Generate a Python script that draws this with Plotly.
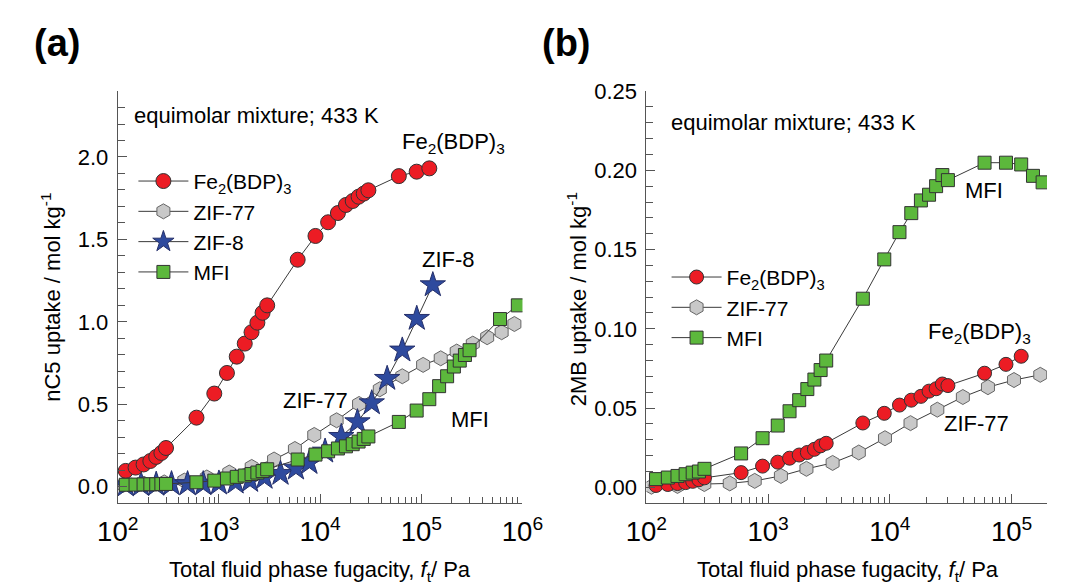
import plotly.graph_objects as go

# ---------------- data ----------------
fe_a_f = [120, 150, 180, 210, 240, 270, 300, 600, 900, 1200, 1500, 1800, 2100, 2400, 2700, 3000,
          6000, 9000, 12000, 15000, 18000, 21000, 24000, 27000, 30000, 60000, 90000, 120000]
fe_a_q = [0.096, 0.116, 0.135, 0.156, 0.181, 0.205, 0.235, 0.419, 0.565, 0.690, 0.789, 0.868, 0.937,
          0.995, 1.055, 1.100, 1.377, 1.521, 1.604, 1.660, 1.709, 1.733, 1.759, 1.778, 1.798, 1.884,
          1.911, 1.931]

zif77_a_f = [114, 182, 288, 455, 759, 1265, 2109, 3508, 5636, 8750, 14555, 24266, 38905, 64863,
             104232, 155597, 223872, 322849, 447713, 622300, 831764]
zif77_a_q = [0.012, 0.018, 0.026, 0.037, 0.056, 0.086, 0.120, 0.165, 0.229, 0.314, 0.403, 0.502,
             0.591, 0.670, 0.739, 0.779, 0.820, 0.868, 0.907, 0.937, 0.987]

zif8_a_f = [120, 170, 240, 340, 490, 700, 1000, 1460, 2030, 2820, 4060, 5770, 7830, 11200, 16200,
            23400, 32400, 46000, 64900, 90200, 130000]
zif8_a_q = [0.010, 0.012, 0.014, 0.017, 0.017, 0.017, 0.021, 0.027, 0.037, 0.056, 0.080, 0.112,
            0.146, 0.215, 0.304, 0.393, 0.508, 0.656, 0.828, 1.020, 1.224]

mfi_a_f = [120, 150, 180, 210, 240, 270, 300, 600, 900, 1200, 1500, 1800, 2100, 2400, 2700, 3000,
           6000, 9000, 12000, 15000, 18000, 21000, 24000, 27000, 30000, 60000, 90000, 120000,
           150000, 180000, 210000, 240000, 270000, 300000, 600000, 900000]
mfi_a_q = [0.012, 0.013, 0.014, 0.015, 0.015, 0.016, 0.017, 0.027, 0.037, 0.050, 0.060, 0.068,
           0.077, 0.086, 0.095, 0.106, 0.165, 0.195, 0.215, 0.232, 0.245, 0.258, 0.274, 0.290,
           0.305, 0.393, 0.462, 0.531, 0.610, 0.670, 0.729, 0.765, 0.799, 0.828, 1.017, 1.100]

fe_b_f = [120, 150, 180, 210, 240, 270, 300, 600, 900, 1200, 1500, 1800, 2100, 2400, 2700, 3000,
          6000, 9000, 12000, 15000, 18000, 21000, 24000, 27000, 30000, 60000, 90000, 120000]
fe_b_q = [0.0012, 0.0018, 0.0024, 0.0030, 0.0038, 0.0048, 0.0060, 0.0093, 0.0134, 0.0159, 0.0184,
          0.0204, 0.0220, 0.0240, 0.0262, 0.0278, 0.0406, 0.0467, 0.0519, 0.0550, 0.0574, 0.0607,
          0.0622, 0.0652, 0.0642, 0.0720, 0.0776, 0.0827]

zif77_b_f = [110, 180, 299, 484, 776, 1274, 2065, 3388, 5559, 9120, 14791, 24547, 39811, 63973,
             104713, 172187]
zif77_b_q = [0.0004, 0.0009, 0.0021, 0.0025, 0.0041, 0.0072, 0.0117, 0.0154, 0.0220, 0.0310,
             0.0405, 0.0490, 0.0570, 0.0632, 0.0677, 0.0710]

mfi_b_f = [120, 150, 180, 210, 240, 270, 300, 600, 900, 1200, 1500, 1800, 2100, 2400, 2700, 3000,
           6000, 9000, 12000, 15000, 18000, 21000, 24000, 27000, 30000, 60000, 90000, 120000,
           150000, 180000]
mfi_b_q = [0.0052, 0.0062, 0.0072, 0.0083, 0.0093, 0.0100, 0.0117, 0.0214, 0.0310, 0.0390, 0.0480,
           0.0550, 0.0620, 0.0680, 0.0740, 0.0800, 0.1190, 0.1438, 0.1610, 0.1730, 0.1810, 0.1846,
           0.1900, 0.1970, 0.1938, 0.2048, 0.2048, 0.2037, 0.1965, 0.1924]

# ---------------- styling ----------------
W, H = 1068, 585
FONT = "Liberation Sans, Arial, Helvetica, sans-serif"
LINE = "#3a3a3a"
AXC = "#555555"
RED, GRAY, BLUE, GREEN = "#ec1c24", "#c8c8c8", "#2e4a9e", "#5cb83c"
FE = "Fe<sub>2</sub>(BDP)<sub>3</sub>"
FS = 22


def px(x, y):
    return x / W, 1 - y / H


fig = go.Figure()


def add(xs, ys, name, sym, color, size, xa, ya, leg, rank, edge="#333333"):
    fig.add_trace(go.Scatter(
        x=xs, y=ys, name=name, mode="lines+markers", xaxis=xa, yaxis=ya,
        legend=leg, legendrank=rank, legendgroup=leg + name,
        line=dict(color=LINE, width=1),
        marker=dict(symbol=sym, size=size, color=color, line=dict(color=edge, width=1)),
    ))


# panel (a)
add(zif77_a_f, zif77_a_q, "ZIF-77", "hexagon", GRAY, 15, "x", "y", "legend", 2, "#666666")
add(zif8_a_f, zif8_a_q, "ZIF-8", "star", BLUE, 19, "x", "y", "legend", 3, "#26306a")
add(fe_a_f, fe_a_q, FE, "circle", RED, 15, "x", "y", "legend", 1)
add(mfi_a_f, mfi_a_q, "MFI", "square", GREEN, 13, "x", "y", "legend", 4)
# panel (b)
add(zif77_b_f, zif77_b_q, "ZIF-77", "hexagon", GRAY, 15, "x2", "y2", "legend2", 2, "#666666")
add(fe_b_f, fe_b_q, FE, "circle", RED, 14, "x2", "y2", "legend2", 1)
add(mfi_b_f, mfi_b_q, "MFI", "square", GREEN, 13, "x2", "y2", "legend2", 3)

tickfont = dict(family=FONT, size=FS, color="black")
common_x = dict(type="log", dtick=1, exponentformat="power", showgrid=False, zeroline=False,
                showline=True, linecolor=AXC, linewidth=1, ticks="inside", ticklen=9,
                tickcolor=AXC, tickfont=tickfont, ticklabelstandoff=5,
                minor=dict(ticks="inside", ticklen=6, dtick="D1", tickcolor=AXC, showgrid=False))
common_y = dict(showgrid=False, zeroline=False, showline=True, linecolor=AXC, linewidth=1,
                ticks="inside", ticklen=9, tickcolor=AXC, tickfont=tickfont, ticklabelstandoff=4)

ydom = [(H - 501.5) / H, (H - 80.7) / H]

fig.update_layout(
    width=W, height=H, margin=dict(l=0, r=0, t=0, b=0),
    paper_bgcolor="white", plot_bgcolor="white",
    font=dict(family=FONT, size=FS, color="black"),
    xaxis=dict(common_x, domain=[100.7 / W, 522 / W], range=[2, 6], anchor="y"),
    yaxis=dict(common_y, domain=ydom, range=[-0.1, 2.4], dtick=0.5, tickformat=".1f", anchor="x",
               minor=dict(ticks="inside", ticklen=7, dtick=0.1, tickcolor=AXC, showgrid=False)),
    xaxis2=dict(common_x, domain=[651 / W, 1.0], range=[2, 2 + 417 / 126.7], anchor="y2"),
    yaxis2=dict(common_y, domain=ydom, range=[-0.01, 0.25], dtick=0.05, tickformat=".2f", anchor="x2",
                minor=dict(ticks="inside", ticklen=7, dtick=0.01, tickcolor=AXC, showgrid=False)),
    legend=dict(x=px(117, 0)[0], y=px(0, 152)[1], xanchor="left", yanchor="top",
                bgcolor="rgba(0,0,0,0)", font=dict(family=FONT, size=21), itemwidth=50,
                traceorder="grouped", tracegroupgap=0),
    legend2=dict(x=px(672, 0)[0], y=px(0, 250)[1], xanchor="left", yanchor="top",
                 bgcolor="rgba(0,0,0,0)", font=dict(family=FONT, size=21), itemwidth=50,
                 traceorder="grouped", tracegroupgap=0),
    showlegend=True,
)


def note(x, y, text, size=FS, xanchor="left", angle=0):
    xp, yp = px(x, y)
    fig.add_annotation(x=xp, y=yp, xref="paper", yref="paper", text=text, showarrow=False,
                       xanchor=xanchor, yanchor="middle", textangle=angle, borderpad=0,
                       font=dict(family=FONT, size=size, color="black"))


# panel labels
note(12, 32, "<b>(a)</b>", size=38)
note(541, 32, "<b>(b)</b>", size=38)
# condition notes
note(117, 106, "equimolar mixture; 433 K")
note(676, 113, "equimolar mixture; 433 K")
# curve labels panel (a)
note(396, 134, FE)
note(416, 253, "ZIF-8")
note(272, 397, "ZIF-77")
note(447, 416, "MFI")
# curve labels panel (b)
note(982, 182, "MFI")
note(943, 328, FE)
note(960, 420, "ZIF-77")
# axis titles
note(31, 291, "nC5 uptake / mol kg<sup>-1</sup>", xanchor="center", angle=-90)
note(579, 293, "2MB uptake / mol kg<sup>-1</sup>", xanchor="center", angle=-90)
note(311, 571, "Total fluid phase fugacity, <i>f</i><sub>t</sub>/ Pa", xanchor="center")
note(861, 571, "Total fluid phase fugacity, <i>f</i><sub>t</sub>/ Pa", xanchor="center")

fig.write_html("out.html")
